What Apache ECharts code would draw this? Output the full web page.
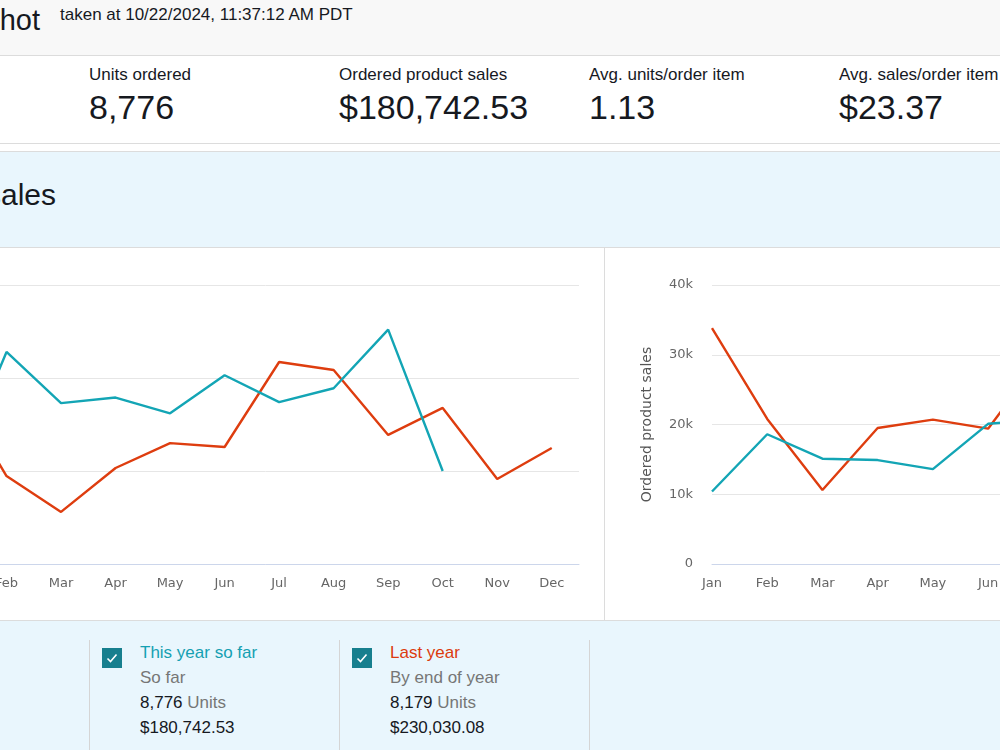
<!DOCTYPE html>
<html>
<head>
<meta charset="utf-8">
<script src="https://cdn.jsdelivr.net/npm/echarts@6/dist/echarts.min.js"></script>
<style>
  html, body { margin: 0; padding: 0; }
  body {
    width: 1000px; height: 750px; overflow: hidden; position: relative;
    font-family: "Liberation Sans", Arial, sans-serif; color: #16191f; background: #fff;
  }
  .abs { position: absolute; white-space: nowrap; }
  #header { left: 0; top: 0; width: 1000px; height: 55px; background: #f8f8f8; border-bottom: 1px solid #dcdcdc; overflow: hidden; }
  #metrics { left: 0; top: 56px; width: 1000px; height: 87px; background: #fff; border-bottom: 1px solid #dcdcdc; }
  #band { left: 0; top: 151px; width: 1000px; height: 95px; background: #e9f6fd; border-top: 1px solid #dcdcdc; border-bottom: 1px solid #dcdcdc; }
  #charts { left: 0; top: 248px; width: 1000px; height: 372px; background: #fff; border-bottom: 1px solid #dcdcdc; overflow: hidden; }
  #legend { left: 0; top: 621px; width: 1000px; height: 129px; background: #e9f6fd; }
  .mlabel { font-size: 17px; top: 9px; line-height: 20px; }
  .mvalue { font-size: 34px; top: 32px; line-height: 38px; }
  .col { position: absolute; top: 19px; height: 120px; border-left: 1px solid #d5d5d5; }
  .chk { position: absolute; left: 12px; top: 8px; width: 20px; height: 20px; background: #177f8e; }
  .chk svg { display: block; }
  .ltxt { position: absolute; left: 50px; top: 0; font-size: 17px; line-height: 25px; white-space: nowrap; }
  .gray { color: #767676; }
</style>
</head>
<body>
<div id="header" class="abs">
  <span class="abs" style="right:960px; top:4px; font-size:29px; line-height:32px;">Sales snapshot</span>
  <span class="abs" style="left:60px; top:5px; font-size:17px; line-height:20px;">taken at 10/22/2024, 11:37:12 AM PDT</span>
</div>
<div id="metrics" class="abs"></div>
<div id="band" class="abs">
  <span class="abs" style="right:944px; top:26px; font-size:30px; line-height:34px;">Compare sales</span>
</div>
<div id="charts" class="abs">
  <div id="unitsChart" style="position:absolute; left:-150px; top:0; width:755px; height:372px;"></div>
  <div style="position:absolute; left:604px; top:0; width:1px; height:372px; background:#dcdcdc;"></div>
  <div id="salesChart" style="position:absolute; left:605px; top:0; width:800px; height:372px;"></div>
</div>
<div id="legend" class="abs"></div>

<script>
// dashboard metrics
var metricLabels = ['Units ordered', 'Ordered product sales', 'Avg. units/order item', 'Avg. sales/order item'];
var metricValues = ['8,776', '$180,742.53', '1.13', '$23.37'];

// chart data
var months = ['Jan', 'Feb', 'Mar', 'Apr', 'May', 'Jun', 'Jul', 'Aug', 'Sep', 'Oct', 'Nov', 'Dec'];
var unitsThisYear = [440, 1140, 865, 895, 810, 1015, 870, 945, 1260, 500];
var unitsLastYear = [968, 473, 280, 516, 650, 629, 1086, 1043, 694, 839, 457, 624];
var salesThisYear = [10400, 18600, 15100, 14900, 13600, 20100, 20700, 23500, 31300, 12500];
var salesLastYear = [33800, 20800, 10600, 19500, 20700, 19400, 30000, 21500, 14300, 17300, 9400, 12800];
var unitsTicks = [0, 500, 1000, 1500];
var salesTicks = [0, 10000, 20000, 30000, 40000];

// legend
var legendItems = [
  { name: 'This year so far', sub: 'So far', units: '8,776', sales: '$180,742.53', color: '#14a0b2' },
  { name: 'Last year', sub: 'By end of year', units: '8,179', sales: '$230,030.08', color: '#dc3b0e' }
];

var TEAL = '#13a5b5';
var RED = '#de3d0f';

var metrics = document.getElementById('metrics');
metricLabels.forEach(function (lab, i) {
  var x = 89 + i * 250;
  metrics.insertAdjacentHTML('beforeend',
    '<span class="abs mlabel" style="left:' + x + 'px">' + lab + '</span>' +
    '<span class="abs mvalue" style="left:' + x + 'px">' + metricValues[i] + '</span>');
});

var legend = document.getElementById('legend');
var check = '<svg width="20" height="20" viewBox="0 0 20 20"><path d="M5.5 10.5 L8.5 13.5 L14.5 6.5" fill="none" stroke="#fff" stroke-width="1.6"/></svg>';
legendItems.forEach(function (it, i) {
  var x = 89 + i * 250;
  legend.insertAdjacentHTML('beforeend',
    '<div class="col" style="left:' + x + 'px; width:250px;">' +
      '<div class="chk">' + check + '</div>' +
      '<div class="ltxt">' +
        '<div style="color:' + it.color + '">' + it.name + '</div>' +
        '<div class="gray">' + it.sub + '</div>' +
        '<div>' + it.units + ' <span class="gray">Units</span></div>' +
        '<div>' + it.sales + '</div>' +
      '</div>' +
    '</div>');
});
legend.insertAdjacentHTML('beforeend',
  '<div class="col" style="left:589px; width:1px;"></div>');

function pairs(arr) {
  return arr.map(function (v, i) { return [i, v]; });
}

function buildOption(opts) {
  return {
    animation: false,
    grid: { left: opts.left, right: opts.right, top: 37, bottom: 56 },
    xAxis: {
      type: 'value',
      min: 0,
      max: 11.5,
      interval: 1,
      axisLine: { show: true, lineStyle: { color: '#ccd6eb', width: 1 } },
      axisTick: { show: false },
      splitLine: { show: false },
      axisLabel: {
        margin: 13,
        color: '#666',
        fontSize: 13,
        fontFamily: 'DejaVu Sans',
        showMaxLabel: false,
        formatter: function (v) {
          return Number.isInteger(v) ? (months[v] || '') : '';
        }
      }
    },
    yAxis: {
      type: 'value',
      min: opts.ticks[0],
      max: opts.ticks[opts.ticks.length - 1],
      interval: opts.ticks[1] - opts.ticks[0],
      name: opts.name,
      nameLocation: 'middle',
      nameRotate: 90,
      nameGap: 58,
      nameTextStyle: { color: '#555', fontSize: 14, fontFamily: 'DejaVu Sans' },
      axisLine: { show: false },
      axisTick: { show: false },
      splitLine: { lineStyle: { color: '#e6e6e6', width: 1 } },
      axisLabel: {
        margin: 19,
        color: '#666',
        fontSize: 13,
        fontFamily: 'DejaVu Sans',
        formatter: opts.fmt
      }
    },
    series: [
      {
        name: 'Last year', type: 'line', data: pairs(opts.last),
        showSymbol: false, symbol: 'none',
        lineStyle: { color: RED, width: 2.4 }, z: 2
      },
      {
        name: 'This year so far', type: 'line', data: pairs(opts.cur),
        showSymbol: false, symbol: 'none',
        lineStyle: { color: TEAL, width: 2.4 }, z: 3
      }
    ]
  };
}

var unitsChart = echarts.init(document.getElementById('unitsChart'));
unitsChart.setOption(buildOption({
  left: 102, right: 26, ticks: unitsTicks, name: 'Units ordered',
  cur: unitsThisYear, last: unitsLastYear,
  fmt: function (v) { return v.toLocaleString('en-US'); }
}));

var salesChart = echarts.init(document.getElementById('salesChart'));
salesChart.setOption(buildOption({
  left: 107, right: 58, ticks: salesTicks, name: 'Ordered product sales',
  cur: salesThisYear, last: salesLastYear,
  fmt: function (v) { return v === 0 ? '0' : (v / 1000) + 'k'; }
}));
</script>
</body>
</html>
